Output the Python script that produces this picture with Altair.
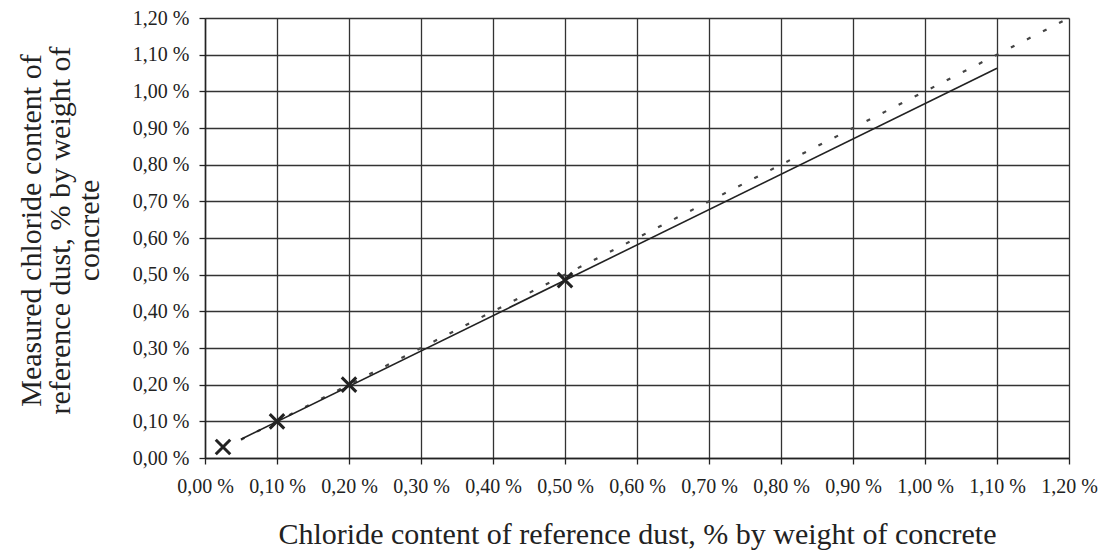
import altair as alt
import pandas as pd

# Measured samples
sample_x = [0.025, 0.10, 0.20, 0.50]
sample_y = [0.03, 0.10, 0.20, 0.485]

# Regression (solid) line end points
fit_x = [0.05, 1.10]
fit_y = [0.051, 1.063]

# Ideal y = x (dotted) line end points
ref_x = [0.05, 1.20]
ref_y = [0.05, 1.20]

tick_values = [0.0, 0.1, 0.2, 0.3, 0.4, 0.5, 0.6, 0.7, 0.8, 0.9, 1.0, 1.1, 1.2]

FONT = "Liberation Serif"
label_expr = "replace(format(datum.value, '.2f'), '.', ',') + ' %'"

samples = pd.DataFrame({"x": sample_x, "y": sample_y})
fit = pd.DataFrame({"x": fit_x, "y": fit_y})
ref = pd.DataFrame({"x": ref_x, "y": ref_y})

x_scale = alt.Scale(domain=[0, 1.2], nice=False, zero=False)
y_scale = alt.Scale(domain=[0, 1.2], nice=False, zero=False)

x_axis = alt.Axis(
    values=tick_values,
    labelExpr=label_expr,
    title="Chloride content of reference dust, % by weight of concrete",
    titleFont=FONT, titleFontSize=30, titleFontWeight="normal", titleColor="#222",
    titleY=85, titleBaseline="alphabetic",
    labelFont=FONT, labelFontSize=20, labelColor="#222", labelPadding=12,
    tickSize=6, tickColor="#222", tickWidth=1.3,
    domainColor="#222", domainWidth=1.5,
    grid=True, gridColor="#333", gridWidth=1.3,
    labelFlush=False, labelOverlap=False,
)
y_axis = alt.Axis(
    values=tick_values,
    labelExpr=label_expr,
    title=["Measured chloride content of", "reference dust, % by weight of", "concrete"],
    titleFont=FONT, titleFontSize=30, titleFontWeight="normal", titleColor="#222",
    titleAngle=270, titleAlign="center", titleBaseline="top",
    titleX=-189, titleY=212, titleLineHeight=29,
    labelFont=FONT, labelFontSize=20, labelColor="#222", labelPadding=10,
    tickSize=6, tickColor="#222", tickWidth=1.3,
    domainColor="#222", domainWidth=1.5,
    grid=True, gridColor="#333", gridWidth=1.3,
    labelFlush=False, labelOverlap=False,
)

enc_x = alt.X("x:Q", scale=x_scale, axis=x_axis)
enc_y = alt.Y("y:Q", scale=y_scale, axis=y_axis)

ref_line = alt.Chart(ref).mark_line(
    color="#444", strokeWidth=2.2, strokeDash=[4, 14]
).encode(x=enc_x, y=enc_y)

fit_line = alt.Chart(fit).mark_line(color="#222", strokeWidth=1.6).encode(
    x=enc_x, y=enc_y
)

points = alt.Chart(samples).mark_point(
    shape="M-1,-1L1,1M-1,1L1,-1", size=210, filled=False,
    strokeWidth=3, color="#222", opacity=1,
).encode(x=enc_x, y=enc_y)

chart = alt.layer(ref_line, fit_line, points).properties(
    width=864, height=440,
    autosize=alt.AutoSizeParams(type="none"),
    padding={"left": 197, "top": 10, "right": 29, "bottom": 95},
).configure_axis(
    titleFont=FONT, labelFont=FONT, titleFontWeight="normal"
).configure_axisY(
    titleFont=FONT
).configure_view(
    stroke="#222", strokeWidth=1.5
).configure(background="white")

chart.save("out.html", embed_options={"renderer": "svg", "actions": False})
